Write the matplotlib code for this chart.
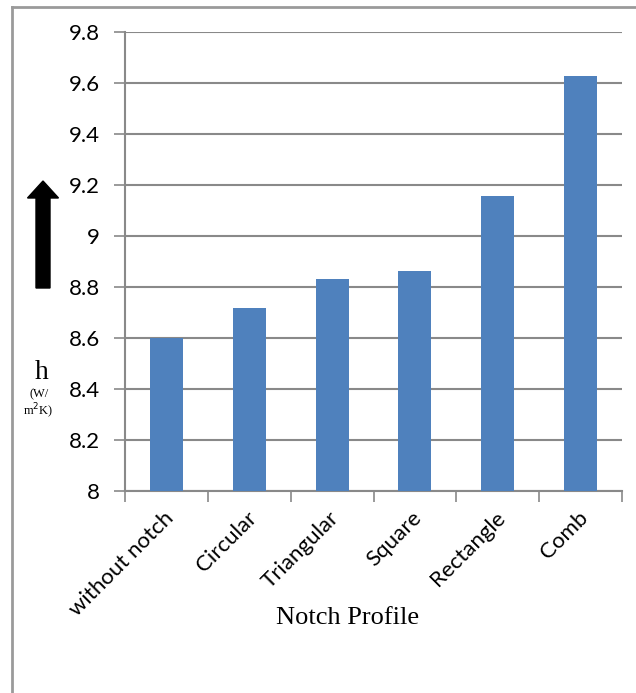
import matplotlib
matplotlib.use('Agg')
import matplotlib.pyplot as plt
import matplotlib.transforms as mtransforms
from matplotlib.patches import FancyArrow
from matplotlib.lines import Line2D

# dados
perfis = ['without notch', 'Circular', 'Triangular', 'Square', 'Rectangle', 'Comb']
h_valores = [8.60, 8.718, 8.832, 8.862, 9.157, 9.628]
yticks = [8, 8.2, 8.4, 8.6, 8.8, 9, 9.2, 9.4, 9.6, 9.8]
ytick_labels = ['8', '8.2', '8.4', '8.6', '8.8', '9', '9.2', '9.4', '9.6', '9.8']

W, H = 636, 693
cinza = '#898989'
azul = '#4F81BD'
fonte_tick = 'Lato'
fonte_serif = 'Liberation Serif'

fig = plt.figure(figsize=(W / 100, H / 100), dpi=100)
ax = fig.add_axes([125 / W, (H - 491) / H, 497 / W, 459 / H])

x = [i + 0.5 for i in range(len(perfis))]
ax.bar(x, h_valores, width=0.4, color=azul, zorder=3)
ax.set_xlim(0, len(perfis))
ax.set_ylim(8, 9.8)

ax.set_yticks(yticks)
ax.set_yticklabels(ytick_labels, fontsize=16, family=fonte_tick)
ax.yaxis.grid(True, color=cinza, linewidth=1.5, zorder=0)

ax.set_xticks(range(len(perfis) + 1))
ax.set_xticklabels([])
ax.set_xticks(x, minor=True)
ax.set_xticklabels(perfis, minor=True, rotation=45, ha='right', fontsize=16, family=fonte_tick)
ax.tick_params(axis='x', which='minor', length=0, pad=12)
ax.tick_params(axis='x', which='major', length=8, width=1.2, color=cinza)
ax.tick_params(axis='y', length=8, width=1.2, color=cinza, pad=10)

# desloca os rotulos um pouco para a direita
desloc = mtransforms.ScaledTranslation(11 / 100, 0, fig.dpi_scale_trans)
for rot in ax.get_xticklabels(minor=True):
    rot.set_transform(rot.get_transform() + desloc)

for lado in ['top', 'right']:
    ax.spines[lado].set_visible(False)
for lado in ['left', 'bottom']:
    ax.spines[lado].set_color(cinza)
    ax.spines[lado].set_linewidth(1.5)

# seta e rotulo do eixo y
fig.patches.append(FancyArrow(43 / W, 1 - 288 / H, 0, (288 - 181) / H, width=14 / W,
                              head_width=31 / W, head_length=17 / H, length_includes_head=True,
                              color='black', transform=fig.transFigure))
fig.text(42 / W, 1 - 373 / H, 'h', fontsize=20, family=fonte_serif, ha='center', va='center')
fig.text(39 / W, 1 - 394 / H, '(W/', fontsize=9, family=fonte_serif, ha='center', va='center')
fig.text(38 / W, 1 - 411 / H, 'm$^2$K)', fontsize=9, family=fonte_serif, ha='center', va='center')

fig.text(348 / W, 1 - 618 / H, 'Notch Profile', fontsize=19, family=fonte_serif, ha='center', va='center')

# borda
fig.lines.append(Line2D([12 / W, 12 / W], [0, 1 - 7 / H], color='#9a9a9a', linewidth=2, transform=fig.transFigure))
fig.lines.append(Line2D([12 / W, 1], [1 - 7 / H, 1 - 7 / H], color='#9a9a9a', linewidth=2, transform=fig.transFigure))

fig.savefig('out.png', dpi=100)
